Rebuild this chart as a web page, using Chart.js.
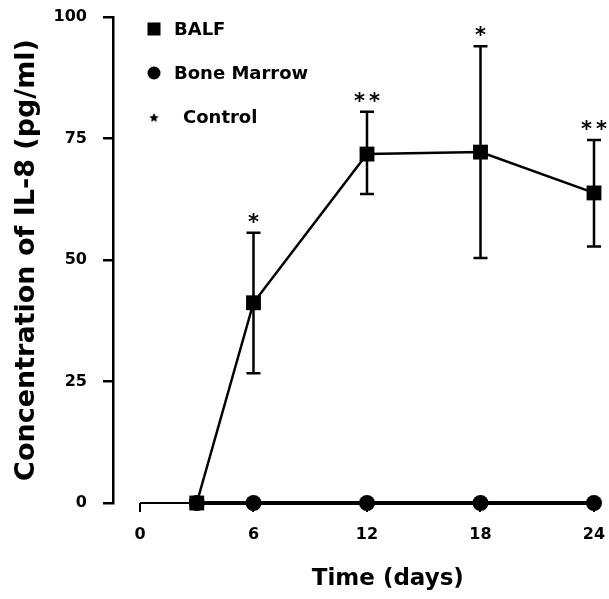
<!DOCTYPE html>
<html>
<head>
<meta charset="utf-8">
<script src="https://cdn.jsdelivr.net/npm/chart.js@4.4.1/dist/chart.umd.min.js"></script>
<style>
  body { margin: 0; background: #fff; }
</style>
</head>
<body>
<canvas id="il8Chart" width="609" height="599"></canvas>
<script>
// values (pg/ml)
const days = [3, 6, 12, 18, 24];
const balf = [0, 41.2, 71.8, 72.2, 63.8];
const balfHigh = [null, 55.6, 80.5, 94.0, 74.7];
const balfLow = [null, 26.7, 63.6, 50.4, 52.8];
const boneMarrow = [0, 0, 0, 0, 0];
const control = [0, 0, 0, 0, 0];
const signif = ['', '*', '**', '*', '**'];
const xTicks = [0, 6, 12, 18, 24];
const yTicks = [0, 25, 50, 75, 100];
const xTitle = 'Time (days)';

const fam = "'DejaVu Sans', sans-serif";

// small filled star used for the control series
function makeStar(size) {
  const c = document.createElement('canvas');
  c.width = size;
  c.height = size;
  const g = c.getContext('2d');
  const r = size / 2, ri = r * 0.45;
  g.beginPath();
  for (let i = 0; i < 10; i++) {
    const a = -Math.PI / 2 + i * Math.PI / 5;
    const rr = i % 2 ? ri : r;
    g.lineTo(r + rr * Math.cos(a), r + rr * Math.sin(a));
  }
  g.closePath();
  g.fillStyle = '#000';
  g.fill();
  return c;
}
const starImg = makeStar(12);

const toPts = (vals) => days.map((d, i) => ({ x: d, y: vals[i] }));

const data = {
  datasets: [
    {
      label: 'BALF',
      data: toPts(balf),
      borderColor: '#000',
      backgroundColor: '#000',
      borderWidth: 2.5,
      pointStyle: 'rect',
      pointRadius: 10.5,
      pointBorderWidth: 0,
      clip: false,
    },
    {
      label: 'Bone Marrow',
      data: toPts(boneMarrow),
      borderColor: '#000',
      backgroundColor: '#000',
      borderWidth: 4,
      pointStyle: 'circle',
      pointRadius: 8,
      pointBorderWidth: 0,
      clip: false,
    },
    {
      label: 'Control',
      data: toPts(control),
      borderColor: '#000',
      backgroundColor: '#000',
      borderWidth: 3,
      pointStyle: starImg,
      clip: false,
    },
  ],
};

// error bars behind the markers, asterisks above them
const errorBars = {
  id: 'errorBars',
  beforeDatasetsDraw(chart) {
    const { ctx, scales: { x, y } } = chart;
    ctx.save();
    ctx.strokeStyle = '#000';
    ctx.lineWidth = 2.5;
    days.forEach((d, i) => {
      if (balfHigh[i] == null) return;
      const px = x.getPixelForValue(d);
      const top = y.getPixelForValue(balfHigh[i]);
      const bot = y.getPixelForValue(balfLow[i]);
      ctx.beginPath();
      ctx.moveTo(px, top); ctx.lineTo(px, bot);
      ctx.moveTo(px - 7, top); ctx.lineTo(px + 7, top);
      ctx.moveTo(px - 7, bot); ctx.lineTo(px + 7, bot);
      ctx.stroke();
    });
    ctx.restore();
  },
  afterDatasetsDraw(chart) {
    const { ctx, scales: { x, y } } = chart;
    ctx.save();
    ctx.fillStyle = '#000';
    ctx.font = 'bold 21px ' + fam;
    ctx.textAlign = 'center';
    ctx.textBaseline = 'alphabetic';
    days.forEach((d, i) => {
      const n = signif[i].length;
      if (!n) return;
      const px = x.getPixelForValue(d);
      const cy = y.getPixelForValue(balfHigh[i]) - 17;
      for (let k = 0; k < n; k++) {
        ctx.fillText('*', px + (k - (n - 1) / 2) * 15, cy + 13);
      }
    });
    ctx.restore();
  },
};

// x axis line only from 0 to 24 (kept apart from the y axis) and its title
const xAxisLine = {
  id: 'xAxisLine',
  beforeDatasetsDraw(chart) {
    const { ctx, chartArea, scales: { x } } = chart;
    ctx.save();
    ctx.strokeStyle = '#000';
    ctx.lineWidth = 2;
    ctx.beginPath();
    ctx.moveTo(x.getPixelForValue(xTicks[0]), chartArea.bottom);
    ctx.lineTo(x.getPixelForValue(xTicks[xTicks.length - 1]), chartArea.bottom);
    ctx.stroke();
    ctx.restore();
  },
  afterDraw(chart) {
    const { ctx, scales: { x } } = chart;
    ctx.save();
    ctx.fillStyle = '#000';
    ctx.font = 'bold 23px ' + fam;
    ctx.textAlign = 'center';
    ctx.textBaseline = 'middle';
    ctx.fillText(xTitle, x.getPixelForValue(13.1), x.bottom - 20);
    ctx.restore();
  },
};

// legend in the upper left of the plot
const legendBox = {
  id: 'legendBox',
  afterDraw(chart) {
    const { ctx, chartArea } = chart;
    ctx.save();
    ctx.fillStyle = '#000';
    ctx.font = 'bold 18px ' + fam;
    ctx.textBaseline = 'middle';
    chart.data.datasets.forEach((ds, i) => {
      const mx = chartArea.left + 41;
      const my = chartArea.top + 12 + i * 44;
      if (ds.pointStyle === 'rect') {
        ctx.fillRect(mx - 6.5, my - 6.5, 13, 13);
      } else if (ds.pointStyle === 'circle') {
        ctx.beginPath();
        ctx.arc(mx, my, 6.5, 0, Math.PI * 2);
        ctx.fill();
      } else {
        ctx.drawImage(ds.pointStyle, mx - 5, my - 4, 10, 10);
      }
      ctx.fillText(ds.label, chartArea.left + (i === 2 ? 70 : 61), my + 1);
    });
    ctx.restore();
  },
};

const config = {
  type: 'line',
  data: data,
  options: {
    responsive: false,
    animation: false,
    layout: { autoPadding: false, padding: { top: 17, right: 15, bottom: 0, left: 0 } },
    plugins: {
      legend: { display: false },
      tooltip: { enabled: false },
    },
    scales: {
      x: {
        type: 'linear',
        min: -1.427,
        max: 24,
        afterBuildTicks: (scale) => { scale.ticks = xTicks.map(v => ({ value: v })); },
        afterFit: (scale) => {
          scale.height = 96;
          scale.paddingLeft = 0;
          scale.paddingRight = 0;
        },
        border: { display: false },
        grid: { drawOnChartArea: false, color: '#000', lineWidth: 2, tickLength: 9 },
        ticks: { color: '#000', padding: 13, font: { family: fam, size: 16, weight: 'bold' } },
      },
      y: {
        min: 0,
        max: 100,
        afterBuildTicks: (scale) => { scale.ticks = yTicks.map(v => ({ value: v })); },
        afterFit: (scale) => {
          scale.width = 113;
          scale.paddingTop = 0;
          scale.paddingBottom = 0;
        },
        border: { display: true, color: '#000', width: 2.5 },
        grid: { drawOnChartArea: false, color: '#000', lineWidth: 2.5, tickLength: 10 },
        ticks: { color: '#000', padding: 16, font: { family: fam, size: 16, weight: 'bold' } },
        title: {
          display: true,
          text: 'Concentration of IL-8 (pg/ml)',
          color: '#000',
          padding: { top: 11, bottom: 0 },
          font: { family: fam, size: 27, weight: 'bold' },
        },
      },
    },
  },
  plugins: [errorBars, xAxisLine, legendBox],
};

const ctx = document.getElementById('il8Chart').getContext('2d');
const il8Chart = new Chart(ctx, config);
</script>
</body>
</html>
